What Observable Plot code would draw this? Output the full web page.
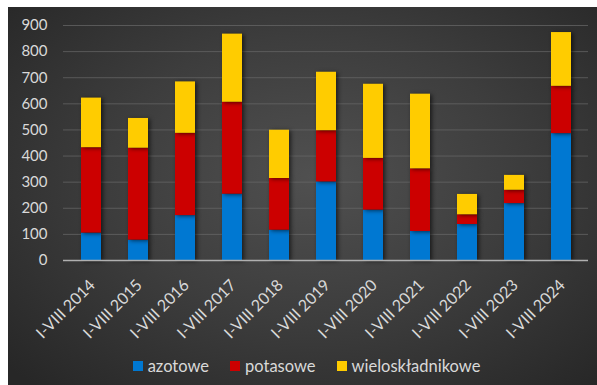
<!DOCTYPE html>
<html>
<head>
<meta charset="utf-8">
<script src="https://cdn.jsdelivr.net/npm/d3@7"></script>
<script src="https://cdn.jsdelivr.net/npm/@observablehq/plot@0.6"></script>
<style>
  html, body { margin: 0; padding: 0; background: #ffffff; }
  body { width: 597px; height: 385px; position: relative; overflow: hidden; font-family: Lato, "Open Sans", sans-serif; }
  #title { position: absolute; left: 446px; top: -30px; font-size: 27px; line-height: 27px; font-weight: bold; color: #e00000; white-space: nowrap; letter-spacing: 0.8px; z-index: 0; }
  #panel { position: absolute; left: 8px; top: 7px; width: 589px; height: 378px;
    background: radial-gradient(ellipse 70% 75% at 52% 45%, #505050 0%, #3d3d3d 50%, #272727 100%); z-index: 1; }
  #legend { position: absolute; left: 4px; top: 349px; width: 589px; display: flex; justify-content: center; gap: 21px;
    color: #d9d9d9; font-size: 16.5px; line-height: 20px; font-family: Lato, sans-serif; }
  #legend .item { display: flex; align-items: center; gap: 5px; }
  #legend .sw { width: 10px; height: 10px; display: inline-block; }
</style>
</head>
<body>
<div id="title">(tys. ton)</div>
<div id="panel"><div id="chart"></div><div id="legend"></div></div>
<script>
const years = ["I-VIII 2014","I-VIII 2015","I-VIII 2016","I-VIII 2017","I-VIII 2018","I-VIII 2019","I-VIII 2020","I-VIII 2021","I-VIII 2022","I-VIII 2023","I-VIII 2024"];
const seriesNames = ["azotowe","potasowe","wieloskładnikowe"];
const azotowe = [105, 78, 172, 254, 116, 301, 193, 111, 138, 218, 486];
const potasowe = [327, 352, 315, 352, 198, 196, 198, 240, 37, 51, 181];
const wieloskladnikowe = [190, 114, 197, 261, 185, 224, 284, 286, 78, 57, 206];
const yTicks = [0,100,200,300,400,500,600,700,800,900];
const colors = ["#0078d2", "#cc0000", "#ffcc00"];

const seriesValues = [azotowe, potasowe, wieloskladnikowe];
const data = [];
years.forEach((y, i) => {
  seriesNames.forEach((s, j) => data.push({year: y, series: s, value: seriesValues[j][i]}));
});

const chart = Plot.plot({
  width: 589,
  height: 345,
  marginTop: 18,
  marginBottom: 92,
  marginLeft: 55,
  marginRight: 9,
  style: {background: "transparent", color: "#d9d9d9", fontFamily: "Lato, sans-serif"},
  x: {domain: years, paddingInner: 0.58, paddingOuter: 0.29, label: null},
  y: {domain: [0, 900], label: null},
  color: {domain: seriesNames, range: colors},
  marks: [
    Plot.gridY(yTicks, {stroke: "#6a6a6a", strokeOpacity: 0.7, strokeWidth: 1}),
    Plot.axisY({ticks: yTicks, tickSize: 0, tickPadding: 16, fontSize: 15, fill: "#d9d9d9", label: null}),
    Plot.axisX({tickSize: 0, tickPadding: 22, dx: 1, tickRotate: -45, fontSize: 16, fill: "#d9d9d9", label: null}),
    Plot.barY(data, Plot.stackY({x: "year", y: "value", fill: "series", order: seriesNames})),
    Plot.ruleY([0], {stroke: "#b0b0b0", strokeWidth: 1.5})
  ]
});
d3.select(chart).selectAll("g[aria-label=bar] rect").style("filter", "drop-shadow(2px 1px 2px rgba(0,0,0,0.6))");
document.getElementById("chart").appendChild(chart);

const legend = d3.select("#legend");
seriesNames.forEach((s, i) => {
  const it = legend.append("div").attr("class", "item");
  it.append("span").attr("class", "sw").style("background", colors[i]);
  it.append("span").text(s);
});
</script>
</body>
</html>
